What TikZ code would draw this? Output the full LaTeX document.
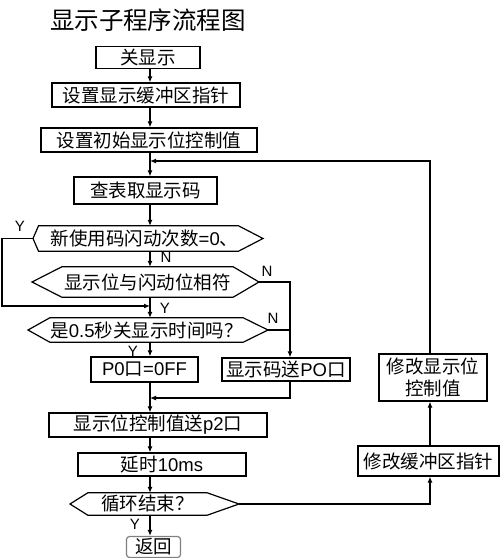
\documentclass[tikz,border=0pt]{standalone}
\usepackage{fontspec}
\setmainfont{Liberation Sans}
\newfontfamily\cjk{Noto Sans CJK SC}
\usetikzlibrary{arrows.meta}
\tikzset{
  box/.style={draw=black, line width=1.2pt, inner sep=0pt, font=\fontsize{18.5}{20}\selectfont},
  hexnode/.style={inner sep=0pt, font=\fontsize{18.5}{20}\selectfont},
  hexline/.style={draw=black, line width=1.2pt, line join=miter},
  conn/.style={line width=1.4pt},
  arr/.style={conn, -{Latex[length=6pt,width=5pt]}},
  lbl/.style={font=\fontsize{15}{17}\selectfont, inner sep=0pt},
  retbox/.style={draw=gray, line width=1.2pt, rounded corners=3pt, inner sep=0pt, font=\fontsize{18.5}{20}\selectfont}
}
\begin{document}
\begin{tikzpicture}[x=1pt,y=-1pt]
\useasboundingbox (0,0) rectangle (500,558);
\fill[white] (0,0) rectangle (500,558);
\coordinate (mx) at (150,0);
\coordinate (rx) at (430,0);

\node[font=\fontsize{24.5}{27}\selectfont\cjk] (title) at (148,20) {显示子程序流程图};

\node[box, minimum width=104, minimum height=22] (n1) at (148,57.5) {\cjk 关显示};
\node[box, minimum width=188, minimum height=24] (n2) at (146,95) {\cjk 设置显示缓冲区指针};
\node[box, minimum width=216, minimum height=24] (n3) at (149,140) {\cjk 设置初始显示位控制值};
\node[box, minimum width=143, minimum height=27] (n4) at (145.5,190.5) {\cjk 查表取显示码};

% hexagon 1
\node[hexnode, minimum width=183, minimum height=25] (h1) at (138.5,238.5) {\hspace*{12pt}{\cjk 新使用码闪动次数}=0{\cjk 、}};
\coordinate (h1L) at (33,238.5);
\coordinate (h1R) at (263,238.5);
\draw[hexline] (h1.north west) -- (h1.north east) -- (h1R) -- (h1.south east) -- (h1.south west) -- (h1L) -- cycle;

% hexagon 2
\node[hexnode, minimum width=171, minimum height=30] (h2) at (147.5,282) {\cjk 显示位与闪动位相符};
\coordinate (h2L) at (32,282);
\coordinate (h2R) at (259,282);
\draw[hexline] (h2.north west) -- (h2.north east) -- (h2R) -- (h2.south east) -- (h2.south west) -- (h2L) -- cycle;

% hexagon 3
\node[hexnode, minimum width=193, minimum height=24] (h3) at (146.5,330) {{\cjk 是}0.5{\cjk 秒关显示时间吗？}};
\coordinate (h3L) at (28,330);
\coordinate (h3R) at (268,330);
\draw[hexline] (h3.north west) -- (h3.north east) -- (h3R) -- (h3.south east) -- (h3.south west) -- (h3L) -- cycle;

\node[box, minimum width=107, minimum height=25] (p0) at (144.5,369.5) {P0{\cjk 口}=0FF};
\node[box, minimum width=128, minimum height=23] (sd) at (286,369.5) {{\cjk 显示码送}PO{\cjk 口}};
\node[box, minimum width=218, minimum height=24] (p2) at (158,425) {{\cjk 显示位控制值送}p2{\cjk 口}};
\node[box, minimum width=168, minimum height=23] (dl) at (162,464.5) {{\cjk 延时}10ms};

% hexagon 4
\node[hexnode, minimum width=119, minimum height=22] (h4) at (147.5,504) {\cjk 循环结束？};
\coordinate (h4L) at (70,504);
\coordinate (h4R) at (239,504);
\draw[hexline] (h4.north west) -- (h4.north east) -- (h4R) -- (h4.south east) -- (h4.south west) -- (h4L) -- cycle;

\node[retbox, minimum width=54, minimum height=21] (ret) at (153.5,547) {\cjk 返回};

\node[box, minimum width=141, minimum height=30] (mb) at (428.5,461) {\cjk 修改缓冲区指针};
\node[box, minimum width=108, minimum height=47, align=center, font=\fontsize{18.5}{22}\selectfont\cjk] (mw) at (433,377.5) {修改显示位\\控制值};

% coordinates for bends
\coordinate (loopR) at (430,161);
\coordinate (yL1) at (2,238.5);
\coordinate (yL2) at (2,306);
\coordinate (merge) at (150,306);
\coordinate (nR1) at (290,282);
\coordinate (nR2) at (290,330);
\coordinate (jn) at (150,398);
\coordinate (jr) at (290,398);
\coordinate (ex) at (430,504);

% main column connectors
\draw[arr] (n1.south -| mx) -- (n2.north -| mx);
\draw[arr] (n2.south -| mx) -- (n3.north -| mx);
\draw[arr] (n3.south -| mx) -- (n4.north -| mx);
\draw[arr] (n4.south -| mx) -- (h1.north -| mx);
\draw[arr] (h1.south -| mx) -- (h2.north -| mx);
\draw[conn] (h2.south -| mx) -- (merge);
\draw[arr] (merge) -- (h3.north -| mx);
\draw[arr] (h3.south -| mx) -- (p0.north -| mx);
\draw[conn] (p0.south -| mx) -- (jn);
\draw[arr] (jn) -- (p2.north -| mx);
\draw[arr] (p2.south -| mx) -- (dl.north -| mx);
\draw[arr] (dl.south -| mx) -- (h4.north -| mx);
\draw[arr] (h4.south -| mx) -- (ret.north -| mx);

% side branches
\draw[arr] (h1L) -- (yL1) -- (yL2) -- (merge);
\draw[arr] (h2R) -- (nR1) -- (sd.north -| nR1);
\draw[conn] (h3R) -- (nR2);
\draw[arr] (sd.south -| jr) -- (jr) -- (jn);
\draw[arr] (h4R) -- (ex) -- (mb.south -| rx);
\draw[arr] (mb.north -| rx) -- (mw.south -| rx);
\draw[arr] (mw.north -| rx) -- (loopR) -- (loopR -| mx);

% labels
\node[lbl] (y1) at (20,226) {Y};
\node[lbl] (n1l) at (166,257) {N};
\node[lbl] (n2l) at (267,271) {N};
\node[lbl] (y2) at (165,308) {Y};
\node[lbl] (n3l) at (273,318) {N};
\node[lbl] (y3) at (133,351) {Y};
\node[lbl] (y4) at (135,524) {Y};
\end{tikzpicture}
\end{document}
